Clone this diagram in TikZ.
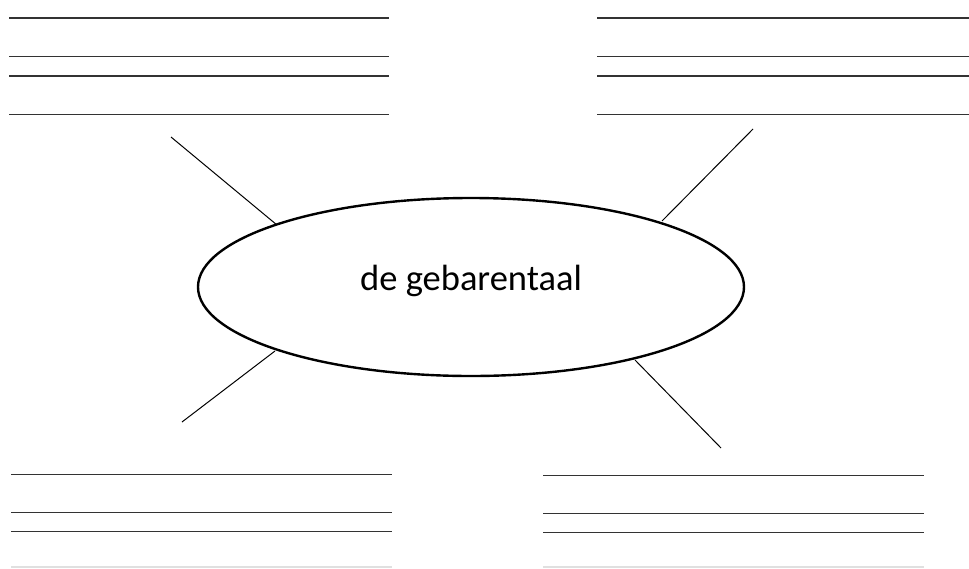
\documentclass[tikz,border=0pt]{standalone}
\usepackage{fontspec}
\setmainfont{Carlito}
\usetikzlibrary{shapes.geometric}
\begin{document}
\begin{tikzpicture}[x=1pt,y=-1pt,
  rule/.style={draw=black!80,line width=1.8pt},
  spoke/.style={draw=black,line width=1pt},
  bubble/.style={ellipse,draw=black,line width=2.4pt,minimum width=546pt,minimum height=178pt,inner sep=0pt,text height=26pt,text depth=20pt,font=\fontsize{36.5}{42}\selectfont}]
\useasboundingbox (0,0) rectangle (969,568);
% writing lines
\foreach \y in {18,56.5,76,114.5}{
  \draw[rule] (9,\y) -- (389,\y);
  \draw[rule] (597,\y) -- (969,\y);
}
\foreach \y in {474.5,512.5,531.5}{
  \draw[rule] (11,\y) -- (392,\y);
  \draw[rule] (543,\y+1) -- (924,\y+1);
}
\draw[draw=black!12,line width=1.5pt] (11,567) -- (392,567);
\draw[draw=black!12,line width=1.5pt] (543,567) -- (924,567);
% central node
\node[bubble] (e) at (471,287) {de gebarentaal};
\coordinate (tl) at (171,137);
\coordinate (tr) at (753,129);
\coordinate (bl) at (182,422);
\coordinate (br) at (721,448);
\coordinate (etl) at (277,225);
\coordinate (etr) at (662,221);
\coordinate (ebl) at (275,351);
\coordinate (ebr) at (635,360);
\draw[spoke] (tl) -- (etl);
\draw[spoke] (tr) -- (etr);
\draw[spoke] (bl) -- (ebl);
\draw[spoke] (br) -- (ebr);
\end{tikzpicture}
\end{document}
